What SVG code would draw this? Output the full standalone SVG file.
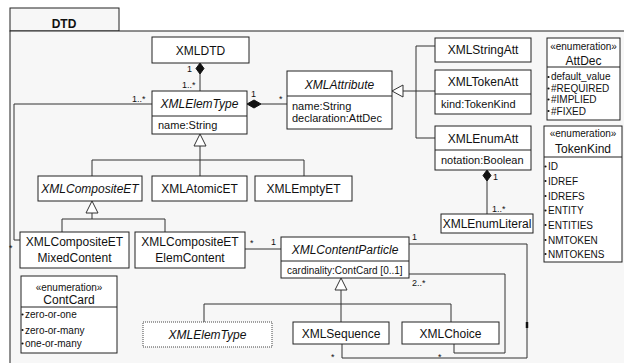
<svg xmlns="http://www.w3.org/2000/svg" width="624" height="363" viewBox="0 0 624 363">
<style>
text{font-family:"Liberation Sans",Arial,sans-serif;fill:#111}
.box{fill:#fff;stroke:#222;stroke-width:1}
.dot{fill:#fff;stroke:#444;stroke-width:1;stroke-dasharray:1 1}
.div{stroke:#222;stroke-width:1}
.t{font-size:12px;text-anchor:middle}
.i{font-style:italic}
.a{font-size:11px}
.s{font-size:10px}
.st{font-size:10px;text-anchor:middle}
.m{font-size:9px}
.ln{fill:none;stroke:#333;stroke-width:1}
.tri{fill:#fff;stroke:#333;stroke-width:1}
.dia{fill:#111;stroke:#111;stroke-width:1}
.b{fill:#111}
</style>
<g id="package">
<rect x="10" y="8" width="109" height="23" fill="#f7f7f7" stroke="#222"/>
<rect x="10" y="31" width="620" height="340" fill="#f7f7f7" stroke="#222"/>
<text x="64" y="28" style="font-size:12px;font-weight:bold;text-anchor:middle">DTD</text>
</g>
<g id="connectors">
<!-- XMLDTD composition -->
<line class="ln" x1="200" y1="74" x2="200" y2="91"/>
<polygon class="dia" points="200,63 204,68.5 200,74 196,68.5"/>
<text class="m" x="187" y="72">1</text>
<text class="m" x="182" y="88">1..*</text>
<!-- XMLElemType - XMLAttribute composition -->
<line class="ln" x1="261" y1="104" x2="287" y2="104"/>
<polygon class="dia" points="247,104 254,100 261,104 254,108"/>
<text class="m" x="251" y="97">1</text>
<text class="m" x="279" y="102">*</text>
<!-- XMLElemType - MixedContent -->
<polyline class="ln" points="152,104 14,104 14,240 20,240"/>
<text class="m" x="132" y="102">1..*</text>
<text class="m" x="9" y="251">*</text>
<!-- XMLElemType generalization -->
<polyline class="ln" points="200,146 200,160"/>
<polyline class="ln" points="92,176 92,160 304,160 304,176"/>
<line class="ln" x1="200" y1="160" x2="200" y2="176"/>
<polygon class="tri" points="200,134 206,146 194,146"/>
<!-- XMLCompositeET generalization -->
<line class="ln" x1="92" y1="213" x2="92" y2="219"/>
<polyline class="ln" points="62,232 62,219 165,219 165,232"/>
<polygon class="tri" points="92,201 98,213 86,213"/>
<!-- XMLAttribute generalization -->
<line class="ln" x1="403" y1="91" x2="416" y2="91"/>
<polyline class="ln" points="435,46 416,46 416,138 435,138"/>
<line class="ln" x1="416" y1="91" x2="435" y2="91"/>
<polygon class="tri" points="392,91 403,85 403,97"/>
<!-- XMLEnumAtt composition -->
<line class="ln" x1="487" y1="181" x2="487" y2="214"/>
<polygon class="dia" points="487,170 491,175.5 487,181 483,175.5"/>
<text class="m" x="493" y="180">1</text>
<text class="m" x="492" y="212">1..*</text>
<!-- ElemContent - ContentParticle -->
<line class="ln" x1="245" y1="249" x2="281" y2="249"/>
<text class="m" x="250" y="246">*</text>
<text class="m" x="271" y="245">1</text>
<!-- ContentParticle generalization -->
<line class="ln" x1="341" y1="290" x2="341" y2="304"/>
<polyline class="ln" points="204,322 204,304 451,304 451,322"/>
<line class="ln" x1="341" y1="304" x2="341" y2="322"/>
<polygon class="tri" points="341,278 347,290 335,290"/>
<!-- ContentParticle - XMLSequence -->
<polyline class="ln" points="409,244 527,244 527,358 342,358 342,344"/>
<line x1="527" y1="322" x2="527" y2="328" stroke="#111" stroke-width="2.5"/>
<text class="m" x="412" y="240">1</text>
<text class="m" x="331" y="360">*</text>
<!-- ContentParticle - XMLChoice -->
<polyline class="ln" points="409,274 505,274 505,353 454,353 454,344"/>
<text class="m" x="412" y="286">2..*</text>
<text class="m" x="438" y="360">*</text>
</g>
<g id="XMLDTD">
<rect class="box" x="152" y="37" width="97" height="26"/>
<text class="t" x="200.5" y="55">XMLDTD</text>
</g>
<g id="XMLElemType">
<rect class="box" x="152" y="91" width="95" height="43"/>
<line class="div" x1="152" y1="116" x2="247" y2="116"/>
<text class="t i" x="199.5" y="108">XMLElemType</text>
<text class="a" x="158" y="129">name:String</text>
</g>
<g id="XMLAttribute">
<rect class="box" x="287" y="71" width="105" height="58"/>
<line class="div" x1="287" y1="96" x2="392" y2="96"/>
<text class="t i" x="339.5" y="89">XMLAttribute</text>
<text class="a" x="292" y="110">name:String</text>
<text class="a" x="292" y="122">declaration:AttDec</text>
</g>
<g id="XMLStringAtt">
<rect class="box" x="435" y="38" width="96" height="24"/>
<text class="t" x="483" y="54">XMLStringAtt</text>
</g>
<g id="XMLTokenAtt">
<rect class="box" x="435" y="70" width="96" height="44"/>
<line class="div" x1="435" y1="94" x2="531" y2="94"/>
<text class="t" x="483" y="86">XMLTokenAtt</text>
<text class="a" x="441" y="108">kind:TokenKind</text>
</g>
<g id="XMLEnumAtt">
<rect class="box" x="435" y="126" width="96" height="44"/>
<line class="div" x1="435" y1="150" x2="531" y2="150"/>
<text class="t" x="483" y="142.5">XMLEnumAtt</text>
<text class="a" x="441" y="164">notation:Boolean</text>
</g>
<g id="XMLEnumLiteral">
<rect class="box" x="441" y="214" width="92" height="19"/>
<text class="t" x="487" y="228">XMLEnumLiteral</text>
</g>
<g id="AttDec">
<rect class="box" x="547" y="38" width="73" height="82"/>
<line class="div" x1="547" y1="67" x2="620" y2="67"/>
<text class="st" x="583.5" y="50">«enumeration»</text>
<text class="t" x="583.5" y="65">AttDec</text>
<circle class="b" cx="548.5" cy="77" r="1.1"/><text class="s" x="551" y="80">default_value</text>
<circle class="b" cx="548.5" cy="88.5" r="1.1"/><text class="s" x="551" y="92">#REQUIRED</text>
<circle class="b" cx="548.5" cy="99.5" r="1.1"/><text class="s" x="551" y="103">#IMPLIED</text>
<circle class="b" cx="548.5" cy="111" r="1.1"/><text class="s" x="551" y="114.5">#FIXED</text>
</g>
<g id="TokenKind">
<rect class="box" x="544" y="126" width="78" height="136"/>
<line class="div" x1="544" y1="157" x2="622" y2="157"/>
<text class="st" x="583" y="137">«enumeration»</text>
<text class="t" x="583" y="152.5">TokenKind</text>
<circle class="b" cx="545.5" cy="166.5" r="1.1"/><text class="s" x="548" y="170">ID</text>
<circle class="b" cx="545.5" cy="181" r="1.1"/><text class="s" x="548" y="184.5">IDREF</text>
<circle class="b" cx="545.5" cy="196" r="1.1"/><text class="s" x="548" y="199.5">IDREFS</text>
<circle class="b" cx="545.5" cy="210.5" r="1.1"/><text class="s" x="548" y="214">ENTITY</text>
<circle class="b" cx="545.5" cy="225" r="1.1"/><text class="s" x="548" y="228.5">ENTITIES</text>
<circle class="b" cx="545.5" cy="240" r="1.1"/><text class="s" x="548" y="243.5">NMTOKEN</text>
<circle class="b" cx="545.5" cy="254" r="1.1"/><text class="s" x="548" y="257.5">NMTOKENS</text>
</g>
<g id="XMLCompositeET">
<rect class="box" x="38" y="176" width="104" height="25"/>
<text class="t i" x="90" y="193">XMLCompositeET</text>
</g>
<g id="XMLAtomicET">
<rect class="box" x="152" y="176" width="95" height="25"/>
<text class="t" x="199.5" y="193">XMLAtomicET</text>
</g>
<g id="XMLEmptyET">
<rect class="box" x="255" y="176" width="97" height="25"/>
<text class="t" x="303.5" y="193">XMLEmptyET</text>
</g>
<g id="XMLCompositeETMixedContent">
<rect class="box" x="20" y="232" width="109" height="36"/>
<text class="t" x="74.5" y="246">XMLCompositeET</text>
<text class="t" x="74.5" y="261.5">MixedContent</text>
</g>
<g id="XMLCompositeETElemContent">
<rect class="box" x="135" y="232" width="110" height="36"/>
<text class="t" x="190" y="246">XMLCompositeET</text>
<text class="t" x="190" y="261.5">ElemContent</text>
</g>
<g id="XMLContentParticle">
<rect class="box" x="281" y="237" width="128" height="41"/>
<line class="div" x1="281" y1="261" x2="409" y2="261"/>
<text class="t i" x="345" y="253.5">XMLContentParticle</text>
<text class="s" x="287" y="273.5">cardinality:ContCard [0..1]</text>
</g>
<g id="ContCard">
<rect class="box" x="21" y="276" width="96" height="77"/>
<line class="div" x1="21" y1="307" x2="117" y2="307"/>
<text class="st" x="69" y="290.5">«enumeration»</text>
<text class="t" x="69" y="303.5">ContCard</text>
<circle class="b" cx="22.5" cy="314.5" r="1.1"/><text class="s" x="25" y="318">zero-or-one</text>
<circle class="b" cx="22.5" cy="330" r="1.1"/><text class="s" x="25" y="333.5">zero-or-many</text>
<circle class="b" cx="22.5" cy="343.5" r="1.1"/><text class="s" x="25" y="347">one-or-many</text>
</g>
<g id="XMLElemTypeRef">
<rect class="dot" x="143" y="322" width="129" height="25"/>
<text class="t i" x="207.5" y="339">XMLElemType</text>
</g>
<g id="XMLSequence">
<rect class="box" x="293" y="322" width="96" height="22"/>
<text class="t" x="341" y="337.5">XMLSequence</text>
</g>
<g id="XMLChoice">
<rect class="box" x="402" y="322" width="97" height="22"/>
<text class="t" x="450.5" y="337.5">XMLChoice</text>
</g>
</svg>
